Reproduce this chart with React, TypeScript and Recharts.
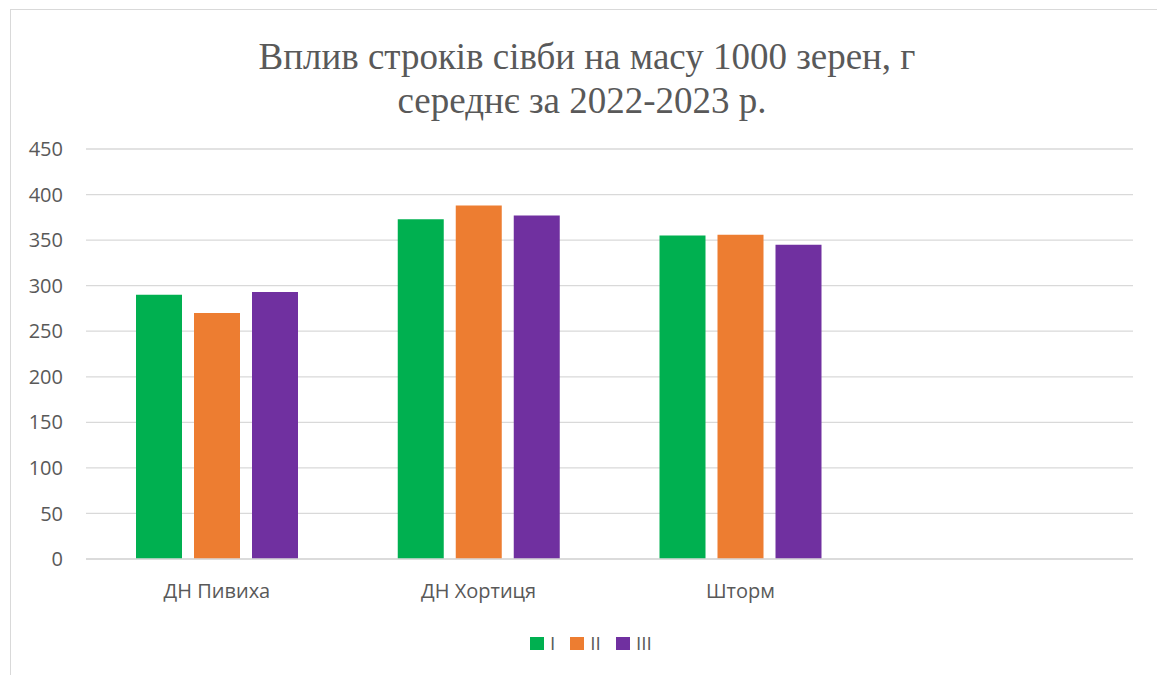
import React from "react";
import { BarChart, Bar, XAxis, YAxis, CartesianGrid } from "recharts";

const categories = ["ДН Пивиха", "ДН Хортиця", "Шторм", ""];
const seriesI = [290, 373, 355, null];
const seriesII = [270, 388, 356, null];
const seriesIII = [293, 377, 345, null];
const seriesNames = ["I", "II", "III"];
const seriesColors = ["#00B050", "#ED7D31", "#7030A0"];
const yTicks = [0, 50, 100, 150, 200, 250, 300, 350, 400, 450];
const titleLines = ["Вплив строків сівби на масу 1000 зерен, г", "середнє за 2022-2023 р."];

const data = categories.map((c, i) => ({
  name: c,
  I: seriesI[i],
  II: seriesII[i],
  III: seriesIII[i],
}));

const W = 1157;
const H = 675;

export default function App() {
  return (
    <div style={{ position: "absolute", left: 0, top: 0, width: W, height: H, overflow: "hidden", background: "#fff" }}>
      <div style={{ position: "absolute", left: 10, top: 9, width: W + 20, height: H + 20, border: "1px solid #d9d9d9", boxSizing: "border-box" }} />
      <div style={{ position: "absolute", left: 0, top: 0 }}>
        <BarChart
          width={W}
          height={H}
          data={data}
          margin={{ top: 149, right: 24, bottom: 86, left: 26 }}
          barGap={12}
          barSize={46}
        >
          <CartesianGrid vertical={false} stroke="#d9d9d9" strokeWidth={1.3} />
          <XAxis
            dataKey="name"
            tickLine={false}
            axisLine={{ stroke: "#d9d9d9", strokeWidth: 1.3 }}
            tick={{ fill: "#595959", fontSize: 20, fontFamily: "'Open Sans', sans-serif" }}
            tickMargin={19}
            interval={0}
          />
          <YAxis
            domain={[0, 450]}
            ticks={yTicks}
            axisLine={false}
            tickLine={false}
            width={60}
            tickMargin={17}
            tick={{ fill: "#595959", fontSize: 20, fontFamily: "'Open Sans', sans-serif" }}
          />
          {seriesNames.map((s, i) => (
            <Bar key={s} dataKey={s} name={s} fill={seriesColors[i]} isAnimationActive={false} />
          ))}
        </BarChart>
      </div>
      <div
        style={{
          position: "absolute",
          top: 633,
          left: 530,
          display: "flex",
          alignItems: "center",
          fontFamily: "'Open Sans', sans-serif",
          fontSize: 19,
          color: "#595959",
        }}
      >
        {seriesNames.map((s, i) => (
          <div key={s} style={{ display: "flex", alignItems: "center", marginLeft: i === 0 ? 0 : 15 }}>
            <span style={{ display: "inline-block", width: 14, height: 13, background: seriesColors[i], marginRight: 6 }} />
            <span style={{ lineHeight: "20px" }}>{s}</span>
          </div>
        ))}
      </div>
      <svg width={W} height={130} style={{ position: "absolute", left: 0, top: 0 }}>
        <text
          x={587}
          y={69}
          textAnchor="middle"
          fontFamily="'Liberation Serif', 'Times New Roman', serif"
          fontSize={37}
          fill="#595959"
          textLength={657}
          lengthAdjust="spacingAndGlyphs"
        >
          {titleLines[0]}
        </text>
        <text
          x={582}
          y={113}
          textAnchor="middle"
          fontFamily="'Liberation Serif', 'Times New Roman', serif"
          fontSize={37}
          fill="#595959"
        >
          {titleLines[1]}
        </text>
      </svg>
    </div>
  );
}
